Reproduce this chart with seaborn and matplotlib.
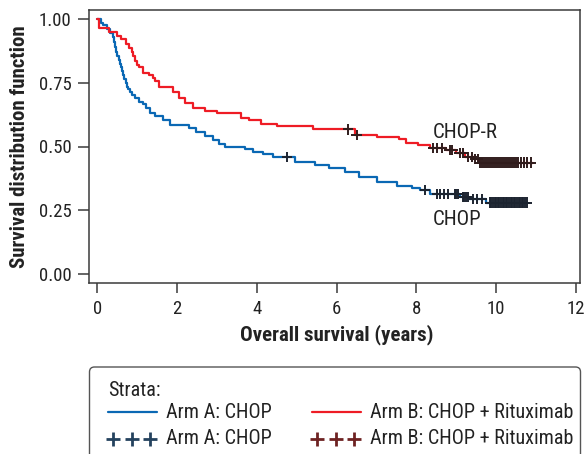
import numpy as np
import pandas as pd
import matplotlib
matplotlib.use("Agg")
import matplotlib.pyplot as plt
import seaborn as sns
from matplotlib import font_manager as fm
from matplotlib.patches import FancyBboxPatch
from matplotlib.lines import Line2D

sns.set_style("ticks")
_avail = set(f.name for f in fm.fontManager.ttflist)
_pref = ["Roboto Condensed", "Archivo Narrow", "PT Sans Narrow", "Liberation Sans"]
_font = next((f for f in _pref if f in _avail), "DejaVu Sans")
plt.rcParams["font.family"] = [_font, "DejaVu Sans"]

# ---------------- data ----------------
arm_names = ["Arm A: CHOP", "Arm B: CHOP + Rituximab"]
curve_labels = ["CHOP", "CHOP-R"]

chop_t = [0.00, 0.08, 0.15, 0.25, 0.32, 0.38, 0.41, 0.44, 0.47, 0.50, 0.53, 0.56, 0.59,
          0.62, 0.65, 0.68, 0.71, 0.74, 0.77, 0.82, 0.88, 0.94, 1.05, 1.15, 1.23, 1.32,
          1.45, 1.65, 1.82, 2.30, 2.48, 2.70, 2.90, 3.05, 3.20, 3.70, 3.90, 4.15, 4.40,
          4.95, 5.45, 5.80, 6.20, 6.55, 7.00, 7.50, 7.90, 8.10, 8.35, 9.10, 9.30, 9.75]
chop_s = [1.00, 0.985, 0.975, 0.96, 0.945, 0.93, 0.91, 0.89, 0.87, 0.855, 0.84, 0.825, 0.81,
          0.795, 0.78, 0.765, 0.75, 0.735, 0.725, 0.715, 0.70, 0.69, 0.675, 0.665, 0.65, 0.63,
          0.62, 0.605, 0.585, 0.571, 0.555, 0.54, 0.525, 0.51, 0.50, 0.49, 0.48, 0.47, 0.46,
          0.44, 0.428, 0.415, 0.40, 0.38, 0.36, 0.345, 0.337, 0.33, 0.315, 0.302, 0.295, 0.28]
chop_cens = [4.75, 8.21, 8.51, 8.58, 8.68, 8.78, 8.96, 9.00, 9.04, 9.16, 9.20, 9.24, 9.29,
             9.41, 9.51, 9.64, 9.84, 9.88, 9.92, 9.96, 10.00, 10.04, 10.08, 10.12, 10.16,
             10.20, 10.24, 10.28, 10.32, 10.36, 10.40, 10.44, 10.48, 10.52, 10.56, 10.60,
             10.64, 10.68, 10.72, 10.76]
chop_end = 10.78

chopr_t = [0.00, 0.05, 0.30, 0.50, 0.60, 0.72, 0.80, 0.86, 0.90, 0.95, 1.00, 1.05, 1.15,
           1.30, 1.40, 1.45, 1.55, 1.90, 2.05, 2.20, 2.40, 2.70, 3.00, 3.60, 3.80, 4.10,
           4.50, 5.40, 6.45, 7.00, 7.55, 7.75, 8.05, 8.35, 8.75, 9.00, 9.22, 9.45, 9.56]
chopr_s = [1.00, 0.965, 0.95, 0.935, 0.92, 0.90, 0.885, 0.87, 0.855, 0.835, 0.82, 0.81, 0.79,
           0.78, 0.77, 0.755, 0.735, 0.715, 0.69, 0.67, 0.65, 0.64, 0.63, 0.61, 0.605, 0.59,
           0.58, 0.567, 0.545, 0.538, 0.528, 0.515, 0.505, 0.495, 0.485, 0.474, 0.46, 0.45,
           0.437]
chopr_cens = [6.28, 6.50, 8.41, 8.51, 8.63, 8.83, 8.90, 9.08, 9.16, 9.29, 9.39, 9.47, 9.54,
              9.60, 9.65, 9.70, 9.75, 9.80, 9.85, 9.90, 9.95, 10.00, 10.05, 10.10, 10.15,
              10.20, 10.25, 10.30, 10.35, 10.40, 10.45, 10.50, 10.55, 10.62, 10.70, 10.78,
              10.86]
chopr_end = 10.92

x_ticks = [0, 2, 4, 6, 8, 10, 12]
y_ticks = [0.00, 0.25, 0.50, 0.75, 1.00]

line_colors = {arm_names[0]: "#0a68b4", arm_names[1]: "#ee1c25"}
mark_colors = {arm_names[0]: "#1c2430", arm_names[1]: "#301c1c"}
legend_mark_colors = ["#24425e", "#6e2222"]


def build(t, s, cens, end, arm):
    t = np.asarray(t)
    s = np.asarray(s)
    curve = pd.DataFrame({"time": np.append(t, end), "surv": np.append(s, s[-1]), "arm": arm})
    idx = np.searchsorted(t, cens, side="right") - 1
    marks = pd.DataFrame({"time": cens, "surv": s[idx], "arm": arm})
    return curve, marks


c1, m1 = build(chop_t, chop_s, chop_cens, chop_end, arm_names[0])
c2, m2 = build(chopr_t, chopr_s, chopr_cens, chopr_end, arm_names[1])
curves = pd.concat([c1, c2], ignore_index=True)
marks = pd.concat([m1, m2], ignore_index=True)

# ---------------- figure ----------------
W, H = 586, 454
fig = plt.figure(figsize=(W / 100, H / 100), dpi=100)
ax = fig.add_axes([89 / W, 1 - 283 / H, 491 / W, 273 / H])

sns.lineplot(data=curves, x="time", y="surv", hue="arm", palette=line_colors,
             drawstyle="steps-post", estimator=None, sort=False, linewidth=1.6,
             legend=False, ax=ax)
sns.scatterplot(data=marks, x="time", y="surv", hue="arm", palette=mark_colors,
                marker="+", s=55, linewidth=1.4, legend=False, ax=ax, zorder=3)

ax.set_xlim(-0.21, 12.1)
ax.set_ylim(-0.035, 1.035)
ax.set_xticks(x_ticks)
ax.set_xticklabels([str(v) for v in x_ticks])
ax.set_yticks(y_ticks)
ax.set_yticklabels([f"{v:.2f}" for v in y_ticks])

spine_col = "#3a3a3a"
for sp in ax.spines.values():
    sp.set_visible(True)
    sp.set_color(spine_col)
    sp.set_linewidth(1.1)
ax.tick_params(axis="y", length=8, width=1.1, pad=4.5, labelsize=13.5,
               color=spine_col, labelcolor="#222222", direction="out")
ax.tick_params(axis="x", length=7.5, width=1.1, pad=4.5, labelsize=13.5,
               color=spine_col, labelcolor="#222222", direction="out")

ax.set_xlabel("Overall survival (years)", fontsize=15, fontweight="bold",
              color="#222222", va="center")
ax.xaxis.set_label_coords((337 - 89) / 491, (283 - 335) / 273)
ax.set_ylabel("Survival distribution function", fontsize=15, fontweight="bold",
              color="#222222", va="center")
ax.yaxis.set_label_coords((20 - 89) / 491, 0.5)

ax.text(8.41, 0.533, curve_labels[1], fontsize=15, color="#222222", va="baseline")
ax.text(8.41, 0.192, curve_labels[0], fontsize=15, color="#222222", va="baseline")

# ---------------- legend (drawn in pixel coordinates) ----------------
lax = fig.add_axes([0, 0, 1, 1])
lax.set_xlim(0, W)
lax.set_ylim(H, 0)
lax.axis("off")
lax.add_patch(FancyBboxPatch((89.5, 367), 491, 110,
                             boxstyle="round,pad=0,rounding_size=5",
                             fc="white", ec="#555555", lw=1.0))
lax.text(108, 390, "Strata:", fontsize=14.5, color="#222222", va="center", ha="left")
cols = [(108, 166), (312, 370)]
for i, (x0, xt) in enumerate(cols):
    lax.add_line(Line2D([x0, x0 + 49], [412, 412], color=list(line_colors.values())[i], lw=1.6))
    lax.text(xt, 412, arm_names[i], fontsize=14.5, color="#222222", va="center", ha="left")
    lax.plot([x0 + 5, x0 + 24, x0 + 42], [439, 439, 439], ls="none", marker="+",
             ms=10, mew=2.0, color=legend_mark_colors[i])
    lax.text(xt, 439, arm_names[i], fontsize=14.5, color="#222222", va="center", ha="left")

fig.savefig("out.png", dpi=100)
